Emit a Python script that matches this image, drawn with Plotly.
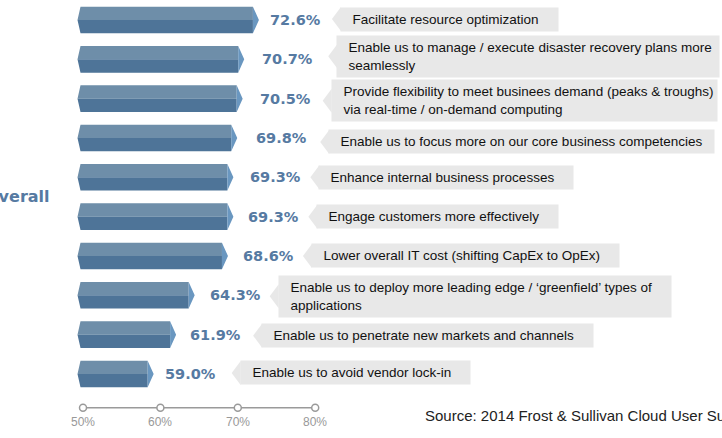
import plotly.graph_objects as go

# ---------------- data ----------------
categories = [
    "Facilitate resource optimization",
    "Enable us to manage / execute disaster recovery plans more<br>seamlessly",
    "Provide flexibility to meet businees demand (peaks & troughs)<br>via real-time / on-demand computing",
    "Enable us to focus more on our core business competencies",
    "Enhance internal business processes",
    "Engage customers more effectively",
    "Lower overall IT cost (shifting CapEx to OpEx)",
    "Enable us to deploy more leading edge / \u2018greenfield\u2019 types of<br>applications",
    "Enable us to penetrate new markets and channels",
    "Enable us to avoid vendor lock-in",
]
values = [72.6, 70.7, 70.5, 69.8, 69.3, 69.3, 68.6, 64.3, 61.9, 59.0]
tick_values = [50, 60, 70, 80]
tick_labels = ["50%", "60%", "70%", "80%"]
group_label = "Overall"
source_text = "Source: 2014 Frost & Sullivan Cloud User Survey"

# ---------------- layout / style ----------------
W, H = 722, 438
PX_PER_PCT = 7.74
X50_PX = 83
ROW0_PX = 20
ROW_PX = 39.33

label_gap_px = [10, 17, 16, 18, 16, 14, 14, 14, 13, 10]
tip_gap_px = [74, 85, 81, 84, 78, 76, 76, 76, 78, 79]
box_dy_px = [-1, -3, 2, 4, 0, 0, 0, 1, 1, -1]
right_pad_nb = [4, 1, 0, 2, 4, 4, 4, 4, 4, 4]
ARROW_W = 8
ARROW_H = 24

TOP_COLOR = "#6e8ea9"
BOT_COLOR = "#4e7498"
CAP_COLOR = "#6a97c0"
VAL_COLOR = "#567aa2"
BOX_COLOR = "#e8e8e8"
AXIS_COLOR = "#9a9a9a"

xmin = 50 - X50_PX / PX_PER_PCT
xmax = xmin + W / PX_PER_PCT
ytop = -ROW0_PX / ROW_PX
ybot = (H - ROW0_PX) / ROW_PX


def dx(p):
    return p / PX_PER_PCT


def dy(p):
    return p / ROW_PX


half = dy(13.3)
left_tip = 50 + dx(77.5 - X50_PX)
left_body = 50 + dx(80.5 - X50_PX)

top_x, top_y, bot_x, bot_y, cap_x, cap_y = [], [], [], [], [], []
for i, v in enumerate(values):
    rb = v - dx(5)
    rt = v + dx(1)
    top_x += [left_tip, left_body, rb, rb, left_tip, None]
    top_y += [i, i - half, i - half, i, i, None]
    bot_x += [left_tip, left_body, rb, rb, left_tip, None]
    bot_y += [i, i + half, i + half, i, i, None]
    cap_x += [rb, rt, rb, rb, None]
    cap_y += [i - half, i, i + half, i - half, None]

fig = go.Figure()
for xs, ys, col in [(top_x, top_y, TOP_COLOR), (bot_x, bot_y, BOT_COLOR), (cap_x, cap_y, CAP_COLOR)]:
    fig.add_trace(go.Scatter(x=xs, y=ys, mode="lines", fill="toself", fillcolor=col,
                             line=dict(width=0, color=col), hoverinfo="skip"))

# axis line with circle markers
axis_y = dy(407.7 - ROW0_PX)
fig.add_trace(go.Scatter(x=tick_values, y=[axis_y] * len(tick_values), mode="lines+markers",
                         line=dict(color=AXIS_COLOR, width=1.5),
                         marker=dict(symbol="circle", size=7, color="white",
                                     line=dict(color=AXIS_COLOR, width=1.5)),
                         hoverinfo="skip"))

annotations = []
shapes = []
NB = "\u00a0"
for i, (v, cat) in enumerate(zip(values, categories)):
    annotations.append(dict(x=v, y=i, xref="x", yref="y", xanchor="left", yanchor="middle",
                            xshift=label_gap_px[i], showarrow=False, text=f"{v:.1f}%",
                            font=dict(family="DejaVu Sans", size=14.5, color=VAL_COLOR,
                                      weight="bold")))
    lines = cat.split("<br>")
    txt = "<br>".join(NB * 2 + ln + NB * right_pad_nb[i] for ln in lines)
    annotations.append(dict(x=v, y=i, xref="x", yref="y", xanchor="left", yanchor="middle",
                            xshift=tip_gap_px[i] + ARROW_W, yshift=-box_dy_px[i],
                            showarrow=False, text=txt, align="left",
                            bgcolor=BOX_COLOR, borderpad=4,
                            font=dict(family="Liberation Sans, Arial, sans-serif", size=13.5,
                                      color="#111111")))
    t = tip_gap_px[i]
    cy = -box_dy_px[i]
    shapes.append(dict(type="path", xref="x", yref="y", xsizemode="pixel", ysizemode="pixel",
                       xanchor=v, yanchor=i,
                       path=f"M {t},{cy} L {t + ARROW_W + 1},{cy + ARROW_H / 2} "
                            f"L {t + ARROW_W + 1},{cy - ARROW_H / 2} Z",
                       fillcolor=BOX_COLOR, line=dict(width=0), layer="below"))

for tv, tl in zip(tick_values, tick_labels):
    annotations.append(dict(x=tv, y=axis_y, xref="x", yref="y", yshift=-14, showarrow=False,
                            text=tl, xanchor="center", yanchor="middle",
                            font=dict(family="Liberation Sans, Arial, sans-serif", size=12,
                                      color="#999999")))

annotations.append(dict(x=52 / W, y=1 - 196 / H, xref="paper", yref="paper", xanchor="right",
                        yanchor="middle", showarrow=False, text=group_label,
                        font=dict(family="DejaVu Sans", size=16, color=VAL_COLOR, weight="bold")))
annotations.append(dict(x=423 / W, y=1 - 415 / H, xref="paper", yref="paper", xanchor="left",
                        yanchor="middle", showarrow=False, text=source_text,
                        font=dict(family="Liberation Sans, Arial, sans-serif", size=15,
                                  color="#222222")))

fig.update_layout(
    width=W, height=H, margin=dict(l=0, r=0, t=0, b=0),
    paper_bgcolor="white", plot_bgcolor="white", showlegend=False,
    xaxis=dict(range=[xmin, xmax], visible=False, fixedrange=True),
    yaxis=dict(range=[ybot, ytop], visible=False, fixedrange=True),
    annotations=annotations, shapes=shapes,
)

fig.write_html("out.html")
